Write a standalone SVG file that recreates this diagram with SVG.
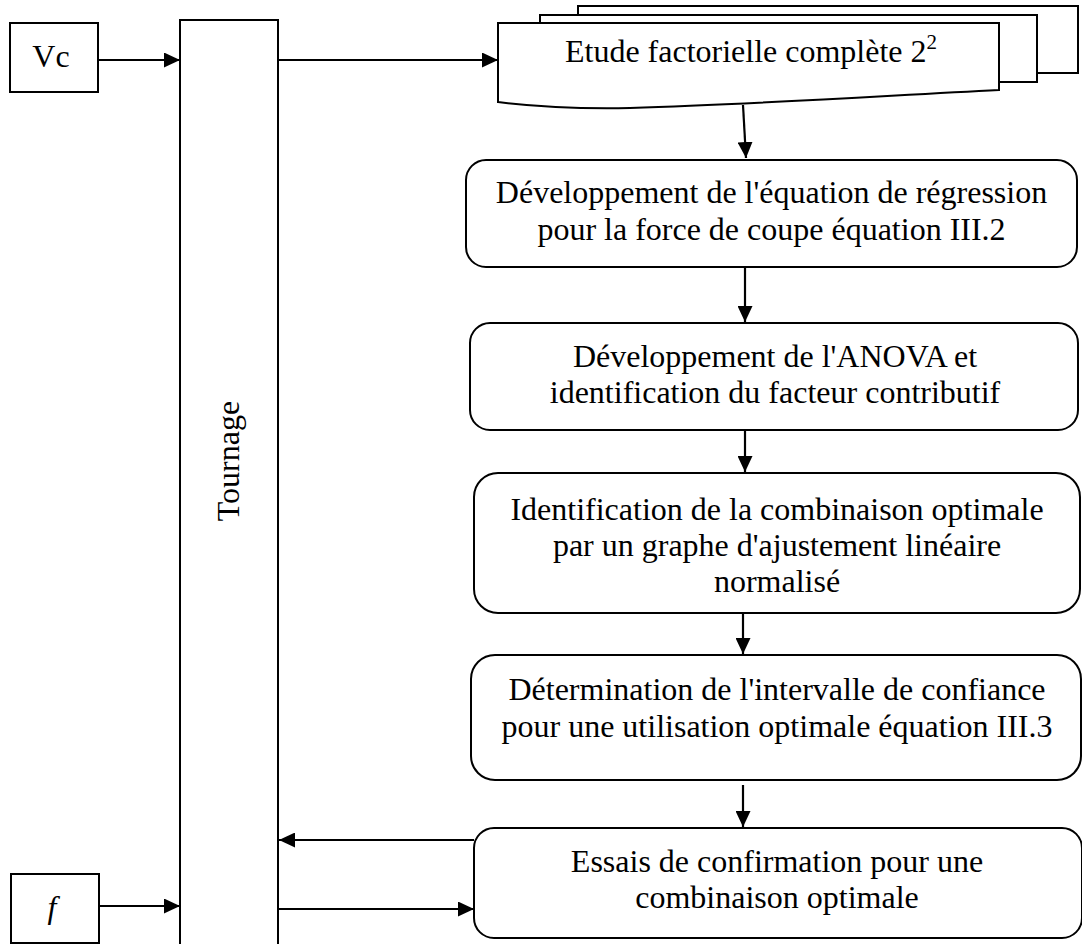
<svg xmlns="http://www.w3.org/2000/svg" width="1082" height="944" viewBox="0 0 1082 944">
<style>
.s{fill:#fff;stroke:#000;stroke-width:2}
.t{font-family:"Liberation Serif","Times New Roman",serif;font-size:32px;fill:#000;text-anchor:middle}
.c{stroke:#000;stroke-width:2.2;fill:none;marker-end:url(#ah)}
</style>
<defs>
<marker id="ah" markerUnits="userSpaceOnUse" markerWidth="16" markerHeight="15" refX="16" refY="7.5" orient="auto">
<path d="M0,0 L16,7.5 L0,15 Z" fill="#000"/>
</marker>
</defs>
<rect width="1082" height="944" fill="#fff"/>
<g id="vc">
<rect class="s" x="10" y="23" width="88" height="69"/>
<text class="t" x="51" y="67">Vc</text>
</g>
<g id="f">
<rect class="s" x="11" y="874" width="88" height="69"/>
<text class="t" x="52" y="918" font-style="italic">f</text>
</g>
<g id="tournage">
<rect class="s" x="180" y="20" width="98" height="950"/>
<text class="t" transform="translate(239,461) rotate(-90)">Tournage</text>
</g>
<g id="etude">
<rect class="s" x="578" y="6" width="500" height="67"/>
<rect class="s" x="540" y="15" width="497" height="67"/>
<path class="s" d="M498,23 H999 V90 C880,96 760,104 630,108 C580,109 530,106 498,102 Z"/>
<text class="t" x="751" y="62">Etude factorielle complète 2<tspan font-size="21" dy="-13">2</tspan></text>
</g>
<g id="regression">
<rect class="s" x="466" y="160" width="611" height="107" rx="20"/>
<text class="t" x="771.5" y="203">Développement de l'équation de régression</text>
<text class="t" x="771.5" y="240">pour la force de coupe équation III.2</text>
</g>
<g id="anova">
<rect class="s" x="470" y="323" width="608" height="107" rx="20"/>
<text class="t" x="775" y="367">Développement de l'ANOVA et</text>
<text class="t" x="775" y="403">identification du facteur contributif</text>
</g>
<g id="optimale">
<rect class="s" x="474" y="473" width="606" height="140" rx="24"/>
<text class="t" x="777" y="520">Identification de la combinaison optimale</text>
<text class="t" x="777" y="556">par un graphe d'ajustement linéaire</text>
<text class="t" x="777" y="592">normalisé</text>
</g>
<g id="intervalle">
<rect class="s" x="471" y="655" width="610" height="125" rx="24"/>
<text class="t" x="777" y="700">Détermination de l'intervalle de confiance</text>
<text class="t" x="777" y="737">pour une utilisation optimale équation III.3</text>
</g>
<g id="essais">
<rect class="s" x="474" y="828" width="608" height="110" rx="20"/>
<text class="t" x="777" y="872">Essais de confirmation pour une</text>
<text class="t" x="777" y="908">combinaison optimale</text>
</g>
<g id="connectors">
<line class="c" x1="98" y1="60" x2="180" y2="60"/>
<line class="c" x1="278" y1="60" x2="498" y2="60"/>
<line class="c" x1="743" y1="105" x2="746" y2="158"/>
<line class="c" x1="745" y1="267" x2="745" y2="322"/>
<line class="c" x1="745" y1="430" x2="745" y2="472"/>
<line class="c" x1="743" y1="613" x2="743" y2="654"/>
<line class="c" x1="743" y1="785" x2="743" y2="827"/>
<line class="c" x1="474" y1="840" x2="279" y2="840"/>
<line class="c" x1="279" y1="909" x2="474" y2="909"/>
<line class="c" x1="99" y1="906" x2="180" y2="906"/>
</g>
</svg>
